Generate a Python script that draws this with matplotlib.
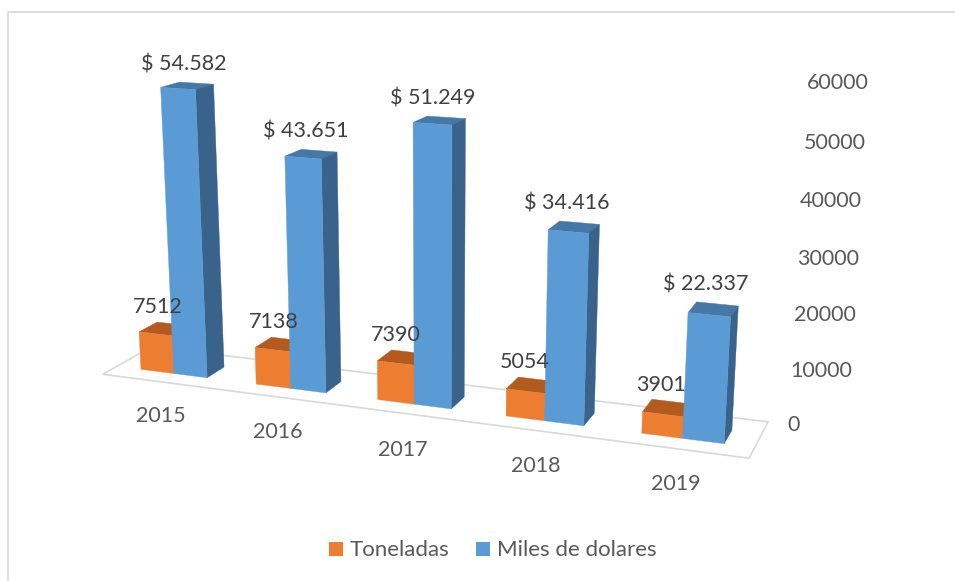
import numpy as np
import matplotlib
matplotlib.use("Agg")
import matplotlib.pyplot as plt
from matplotlib.patches import Polygon, Rectangle

plt.rcParams['font.family'] = ['Lato', 'DejaVu Sans']

years = ['2015', '2016', '2017', '2018', '2019']
toneladas = [7512, 7138, 7390, 5054, 3901]
miles_dolares = [54582, 43651, 51249, 34416, 22337]
miles_labels = ['$ 54.582', '$ 43.651', '$ 51.249', '$ 34.416', '$ 22.337']
axis_ticks = [0, 10000, 20000, 30000, 40000, 50000, 60000]

# camera of the 3d chart: (category, depth, value/10000) -> picture pixels
CAM = np.array([
    [109.42437134332327, 21.20251065118406, -3.803362648044591, 173.81865287974054],
    [4.803521800919823, -3.4330100436517843, -53.17036603721983, 373.49433710478723],
    [-0.026046553992601685, 0.01960834930037681, -0.008677331005115639, 1.0],
])
BAR_W = 0.29

ORANGE = ('#ED7D31', '#B35A1E', '#B35A1E')
BLUE = ('#5B9BD5', '#4577A7', '#39638A')
GRID = '#D9D9D9'


def project(cat, depth, value):
    q = CAM @ np.array([cat, depth, value / 10000.0, 1.0])
    return q[0] / q[2], q[1] / q[2]


def face(ax, corners, color):
    ax.add_patch(Polygon([project(*c) for c in corners], closed=True, facecolor=color,
                         edgecolor=color, linewidth=0.3, zorder=3))


def draw_bar(ax, left, value, colors):
    right = left + BAR_W
    face(ax, [(left, 0, value), (right, 0, value), (right, 1, value), (left, 1, value)], colors[1])
    face(ax, [(right, 0, 0), (right, 1, 0), (right, 1, value), (right, 0, value)], colors[2])
    face(ax, [(left, 0, 0), (right, 0, 0), (right, 0, value), (left, 0, value)], colors[0])


fig = plt.figure(figsize=(9.55, 5.81), dpi=100)
ax = fig.add_axes([0, 0, 1, 1])
ax.set_xlim(0, 955)
ax.set_ylim(581, 0)
ax.axis('off')

# chart frame, cut off by the picture on the right and at the bottom
ax.plot([7.5, 7.5, 955], [581, 11.5, 11.5], color=GRID, lw=1.2, zorder=1)

# floor
floor = [(-0.505, -0.755, 0), (4.5, -0.755, 0), (4.5, 1.94, 0), (-0.505, 1.94, 0)]
ax.add_patch(Polygon([project(*c) for c in floor], closed=True, facecolor='white',
                     edgecolor=GRID, linewidth=1.2, zorder=2))

for i in range(len(years)):
    draw_bar(ax, i - BAR_W, toneladas[i], ORANGE)
    draw_bar(ax, i, miles_dolares[i], BLUE)

# data labels
usd_dx = [-4, -5, -7, -7, -8]
for i in range(len(years)):
    x = project(i - BAR_W / 2, 0.5, toneladas[i])[0]
    y = project(i - BAR_W / 2, 1, toneladas[i])[1]
    ax.text(x - 7, y - 17, str(toneladas[i]), ha='center', va='center', fontsize=15.5,
            color='#404040', zorder=5)
    x = project(i + BAR_W / 2, 0.5, miles_dolares[i])[0]
    y = project(i + BAR_W / 2, 1, miles_dolares[i])[1]
    ax.text(x + usd_dx[i], y - 19, miles_labels[i], ha='center', va='center', fontsize=15.5,
            color='#404040', zorder=5)

# value axis on the right, left aligned along the floor corner
for t in axis_ticks:
    x, y = project(4.5, 1.94, t)
    ax.text(x + 19, y + 3, str(t), ha='left', va='center', fontsize=15.5, color='#595959', zorder=5)

# category labels
label_pos = [(0.376, -3.079), (1.308, -3.074), (2.251, -3.064), (3.194, -2.986), (4.132, -2.855)]
for year, (u, d) in zip(years, label_pos):
    x, y = project(u, d, 0)
    ax.text(x, y + 1.5, year, ha='center', va='center', fontsize=15.5, color='#595959', zorder=5)

# legend
ax.add_patch(Rectangle((329.3, 542), 14, 14, facecolor=ORANGE[0], edgecolor='none', zorder=5))
ax.text(349.7, 549.5, 'Toneladas', ha='left', va='center', fontsize=16, color='#595959', zorder=5)
ax.add_patch(Rectangle((476, 542), 14, 14, facecolor=BLUE[0], edgecolor='none', zorder=5))
ax.text(496.7, 549.5, 'Miles de dolares', ha='left', va='center', fontsize=16, color='#595959', zorder=5)

fig.savefig('out.png', dpi=100)
